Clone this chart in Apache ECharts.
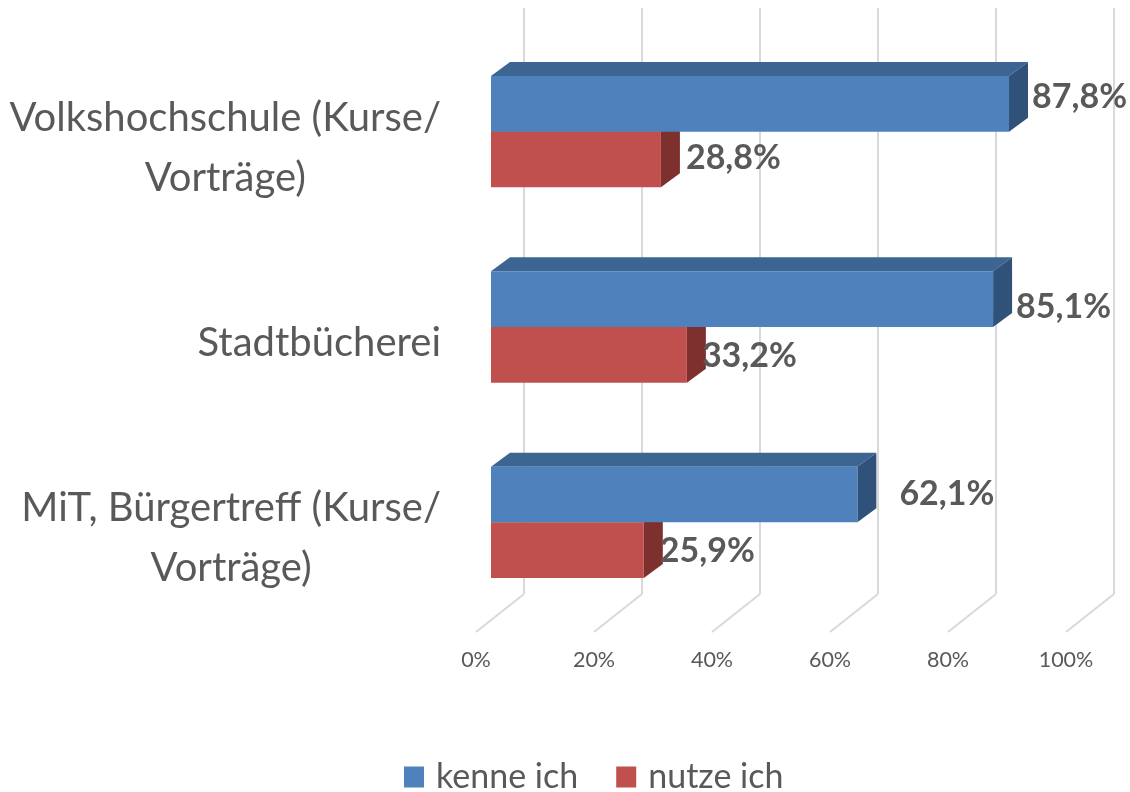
<!DOCTYPE html>
<html><head><meta charset="utf-8">
<script src="https://cdn.jsdelivr.net/npm/echarts@6/dist/echarts.min.js"></script>
<style>html,body{margin:0;padding:0;background:#fff}#c{width:1130px;height:792px}</style>
</head><body><div id="c"></div>
<script>
// ---- data ----
const categories = ['Volkshochschule (Kurse/\nVorträge)', 'Stadtbücherei', 'MiT, Bürgertreff (Kurse/\nVorträge)'];
const seriesNames = ['kenne ich', 'nutze ich'];
const kenneIch = [87.8, 85.1, 62.1];
const nutzeIch = [28.8, 33.2, 25.9];
const tickValues = [0, 20, 40, 60, 80, 100];
const tickLabels = ['0%', '20%', '40%', '60%', '80%', '100%'];

// ---- style ----
const FONT = 'Lato';
const TEXT = '#595959';
const GRIDC = '#D9D9D9';
const DX = 19, DY = -14;          // bar depth
const FX = -48, FY = 38;          // floor depth
const palette = [
  {front: '#4F81BD', top: '#3D6591', side: '#30527A'},
  {front: '#C0504D', top: '#9B3F3C', side: '#7D302E'}
];
// small label nudges [dx, dy] per series / category
const labelNudge = [
  [[0, -7], [0, 8], [19, 0]],
  [[2, -1], [-8, 1], [-7, 1]]
];

function fmtPct(v) { return v.toFixed(1).replace('.', ',') + '%'; }

function barRender(sIdx) {
  const col = palette[sIdx];
  return function (params, api) {
    const val = api.value(0), cat = api.value(1);
    const c0 = api.coord([0, cat]);
    const c1 = api.coord([val, cat]);
    const band = api.size([0, 1])[1];
    const th = band * 0.285;
    const top = sIdx === 0 ? c0[1] - th : c0[1];
    const x0 = c0[0], x1 = c1[0];
    const nud = labelNudge[sIdx][params.dataIndex];
    return {
      type: 'group',
      children: [
        {type: 'polygon', shape: {points: [[x0, top], [x0 + DX, top + DY], [x1 + DX, top + DY], [x1, top]]},
         style: {fill: col.top}},
        {type: 'polygon', shape: {points: [[x1, top], [x1 + DX, top + DY], [x1 + DX, top + th + DY], [x1, top + th]]},
         style: {fill: col.side}},
        {type: 'rect', shape: {x: x0, y: top, width: x1 - x0, height: th},
         style: {fill: col.front}},
        {type: 'text', x: x1 + DX + 4 + nud[0], y: top + th / 2 + nud[1],
         style: {text: fmtPct(val), fill: TEXT, font: 'bold 34px ' + FONT, textAlign: 'left', textVerticalAlign: 'middle'}}
      ]
    };
  };
}

const chart = echarts.init(document.getElementById('c'), null, {renderer: 'canvas'});
chart.setOption({
  animation: false,
  backgroundColor: '#ffffff',
  textStyle: {fontFamily: FONT},
  grid: [
    {left: 491, width: 590, top: 34, height: 586, containLabel: false, outerBoundsMode: 'none'},
    {left: 524, width: 590, top: 8, height: 586, containLabel: false, outerBoundsMode: 'none'},
    {left: 476, width: 590, top: 600, height: 32, containLabel: false, outerBoundsMode: 'none'}
  ],
  xAxis: [
    {type: 'value', gridIndex: 0, min: 0, max: 100, interval: 20, show: false},
    {type: 'value', gridIndex: 1, min: 0, max: 100, interval: 20,
     axisLine: {show: false}, axisTick: {show: false}, axisLabel: {show: false},
     splitLine: {show: true, lineStyle: {color: GRIDC, width: 2}}},
    {type: 'value', gridIndex: 2, min: 0, max: 100, interval: 20,
     axisLine: {show: false}, axisTick: {show: false}, splitLine: {show: false},
     axisLabel: {show: true, color: TEXT, fontSize: 21.5, fontFamily: FONT, margin: 17,
       formatter: v => tickLabels[tickValues.indexOf(v)]}}
  ],
  yAxis: [
    {type: 'category', gridIndex: 0, inverse: true, data: categories,
     axisLine: {show: false}, axisTick: {show: false}, splitLine: {show: false},
     axisLabel: {show: true, interval: 0, margin: 50, align: 'right', padding: [32, 0, 0, 0],
       formatter: v => v.split('\n').map(l => '{c|' + l + '}').join('\n'),
       rich: {c: {align: 'center', fontSize: 40, lineHeight: 60, color: TEXT, fontFamily: FONT}}}},
    {type: 'value', gridIndex: 1, min: 0, max: 1, show: false},
    {type: 'value', gridIndex: 2, min: 0, max: 1, show: false}
  ],
  legend: {
    left: 404, top: 760, padding: 0, itemWidth: 20, itemHeight: 21, itemGap: 38, icon: 'rect',
    data: seriesNames,
    textStyle: {color: TEXT, fontSize: 34, fontFamily: FONT, padding: [0, 0, 0, 7]}
  },
  series: [
    {type: 'custom', name: 'floor', xAxisIndex: 1, yAxisIndex: 1, silent: true, z: 1,
     data: tickValues.map(v => [v, 0]),
     renderItem: function (params, api) {
       const p = api.coord([api.value(0), 0]);
       return {type: 'line', shape: {x1: p[0], y1: p[1], x2: p[0] + FX, y2: p[1] + FY},
               style: {stroke: GRIDC, lineWidth: 2}};
     }},
    {type: 'custom', name: seriesNames[1], xAxisIndex: 0, yAxisIndex: 0, z: 3,
     itemStyle: {color: palette[1].front},
     encode: {x: 0, y: 1},
     data: nutzeIch.map((v, i) => [v, i]),
     renderItem: barRender(1)},
    {type: 'custom', name: seriesNames[0], xAxisIndex: 0, yAxisIndex: 0, z: 4,
     itemStyle: {color: palette[0].front},
     encode: {x: 0, y: 1},
     data: kenneIch.map((v, i) => [v, i]),
     renderItem: barRender(0)}
  ]
});
</script>
</body></html>
